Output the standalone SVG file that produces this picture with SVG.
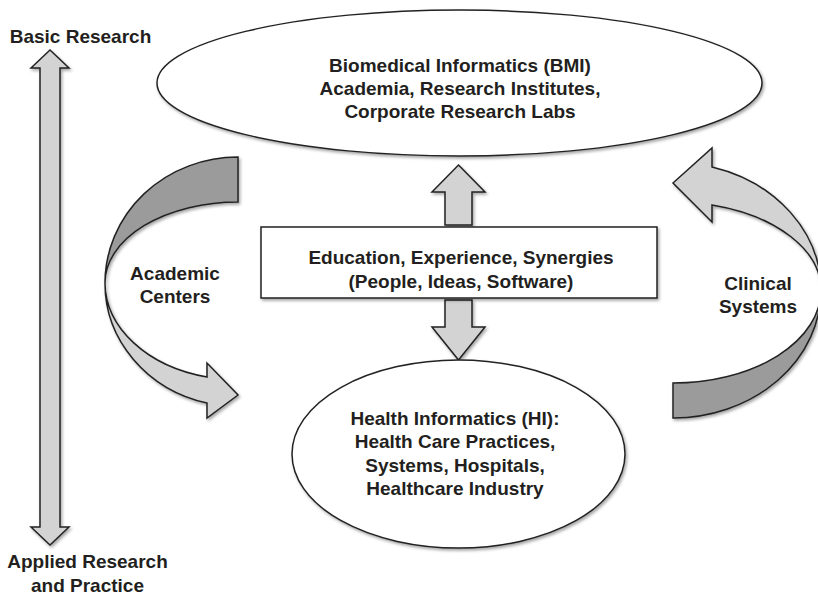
<svg xmlns="http://www.w3.org/2000/svg" width="818" height="597" viewBox="0 0 818 597">
<defs>
<filter id="sh" x="-10%" y="-10%" width="130%" height="130%">
<feDropShadow dx="1.5" dy="2" stdDeviation="1.5" flood-color="#000" flood-opacity="0.35"/>
</filter>
</defs>
<style>
.shape{stroke:#222;stroke-width:1.5;stroke-linejoin:miter}
.light{fill:#d3d3d3}
.dark{fill:#9b9b9b}
.white{fill:#fff}
text{font-family:"Liberation Sans",Arial,Helvetica,sans-serif;font-weight:bold;font-size:19px;fill:#231f20;text-anchor:middle}
</style>
<rect width="818" height="597" fill="#fff"/>

<g id="connectors" filter="url(#sh)">
<path id="axis-arrow" class="shape light" d="M50,50 L69,68 L60,68 L60,527 L69,527 L50,545 L31,527 L40,527 L40,68 L31,68 Z"/>
<g id="academic-arrow">
<path class="shape dark" d="M238,157 A133,126 0 0 0 105,283 A133,81 0 0 1 238,202 Z"/>
<path class="shape light" d="M105,283 A133,123 0 0 0 207,403 L207,418 L238,395 L207,363 L207,377 A133,97 0 0 1 105,283 Z"/>
</g>
<g id="clinical-arrow">
<path class="shape dark" d="M673,418 A148,128 0 0 0 821,290 A148,93 0 0 1 673,383 Z"/>
<path class="shape light" d="M673,183 L712,148 L712,167 A148,127.5 0 0 1 821,290 A148,88 0 0 0 712,205 L712,222 Z"/>
</g>
<path id="up-arrow" class="shape light" d="M458.5,165 L485,192 L472,192 L472,225 L445,225 L445,192 L432,192 Z"/>
<path id="down-arrow" class="shape light" d="M445,300 L472,300 L472,327 L485,327 L458.5,360 L432,327 L445,327 Z"/>
</g>

<g id="bmi">
<ellipse class="shape white" cx="459.5" cy="83" rx="302.5" ry="73" filter="url(#sh)"/>
<text x="460" y="72">Biomedical Informatics (BMI)</text>
<text x="460" y="95">Academia, Research Institutes,</text>
<text x="460" y="118">Corporate Research Labs</text>
</g>

<g id="education">
<rect class="shape white" x="261" y="227" width="396" height="71" filter="url(#sh)"/>
<text x="461" y="264">Education, Experience, Synergies</text>
<text x="461" y="288">(People, Ideas, Software)</text>
</g>

<g id="hi">
<ellipse class="shape white" cx="458.5" cy="454" rx="166.5" ry="94" filter="url(#sh)"/>
<text x="455" y="425">Health Informatics (HI):</text>
<text x="455" y="448">Health Care Practices,</text>
<text x="455" y="472">Systems, Hospitals,</text>
<text x="455" y="495">Healthcare Industry</text>
</g>

<g id="academic-label">
<text x="175" y="280">Academic</text>
<text x="175" y="303">Centers</text>
</g>

<g id="clinical-label">
<rect x="714" y="264" width="94" height="58" fill="#fff"/>
<text x="758" y="290">Clinical</text>
<text x="758" y="313">Systems</text>
</g>

<g id="basic-label">
<text x="80.5" y="43">Basic Research</text>
</g>
<g id="applied-label">
<text x="87.5" y="568">Applied Research</text>
<text x="87.5" y="592">and Practice</text>
</g>
</svg>
